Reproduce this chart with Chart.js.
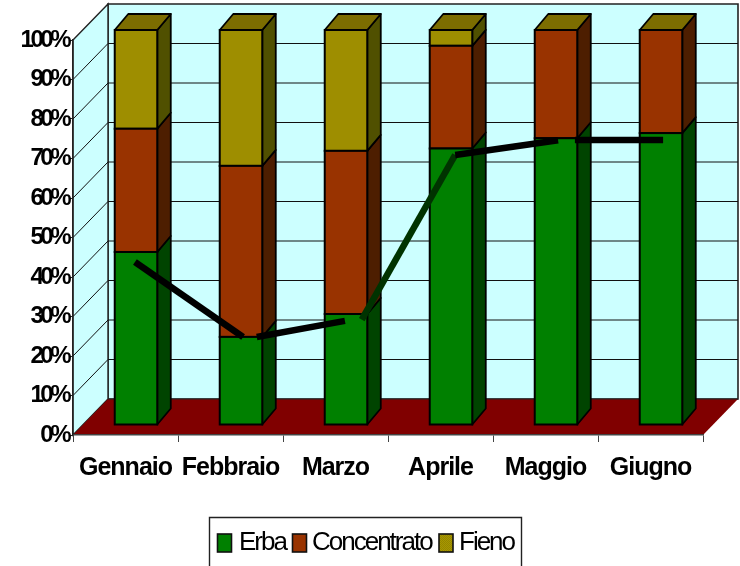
<!DOCTYPE html>
<html lang="it">
<head>
<meta charset="utf-8">
<title>Razione mensile</title>
<script src="https://cdn.jsdelivr.net/npm/chart.js@4"></script>
<style>
  html, body { margin: 0; padding: 0; background: #fff; }
  #wrap { width: 740px; height: 566px; position: relative; }
</style>
</head>
<body>
<div id="wrap"><canvas id="chart" width="740" height="566"></canvas></div>
<script>
// Categories and stacked shares (percent)
const months = ['Gennaio', 'Febbraio', 'Marzo', 'Aprile', 'Maggio', 'Giugno'];
const erba = [43.8, 22.3, 28.1, 70.0, 72.6, 73.9];
const concentrato = [31.2, 43.3, 41.3, 26.0, 27.4, 26.1];
const fieno = [25.0, 34.4, 30.6, 4.0, 0, 0];
const yTicks = [0, 10, 20, 30, 40, 50, 60, 70, 80, 90, 100];

// Trend line pieces, in month-index units; null breaks the line
const trendX = [0.09, 1.12, 1.18, 1.25, 2.09, 2.17, 2.25, 3.14, 4.12, 4.2, 4.28, 5.12];
const trendY = [43.8, 24.8, null, 24.8, 28.9, null, 29.2, 70.9, 74.6, null, 74.7, 74.7];
const darkSegmentStart = 6;

// Oblique projection of the 3D box
const WALL_DX = 35, WALL_DY = -36;      // front plane to back wall
const BAR_DX = 10.5, BAR_DY = -10;      // front plane to bar front faces
const BAR_DEPTH_X = 13.5, BAR_DEPTH_Y = -16;

// Two-tone fill that gives the hay series its woven look
function weave(a, b) {
  const c = document.createElement('canvas');
  c.width = c.height = 2;
  const g = c.getContext('2d');
  g.fillStyle = a; g.fillRect(0, 0, 2, 2);
  g.fillStyle = b; g.fillRect(0, 0, 1, 1); g.fillRect(1, 1, 1, 1);
  return g.createPattern(c, 'repeat');
}
const hayFront = weave('#A89800', '#948500');
const hayTop = weave('#847400', '#746600');

const sideColors = ['#004400', '#4D1E00', '#505000'];

function poly(ctx, pts, fill, stroke, lw) {
  ctx.beginPath();
  pts.forEach((p, i) => i ? ctx.lineTo(p[0], p[1]) : ctx.moveTo(p[0], p[1]));
  ctx.closePath();
  if (fill) { ctx.fillStyle = fill; ctx.fill(); }
  if (stroke) { ctx.strokeStyle = stroke; ctx.lineWidth = lw; ctx.stroke(); }
}

const box3d = {
  id: 'box3d',
  // Walls, floor and wall grid behind everything else
  beforeDraw(chart) {
    const { ctx, chartArea: a, scales: { y } } = chart;
    const bx = a.left + WALL_DX, tr = a.right + WALL_DX;
    const fy0 = y.getPixelForValue(0), fy100 = y.getPixelForValue(100);
    ctx.save();
    ctx.letterSpacing = '0px';
    poly(ctx, [[bx, fy100 + WALL_DY], [tr, fy100 + WALL_DY], [tr, fy0 + WALL_DY], [bx, fy0 + WALL_DY]], '#CCFFFF', '#222', 1.6);
    poly(ctx, [[a.left, fy100], [bx, fy100 + WALL_DY], [bx, fy0 + WALL_DY], [a.left, fy0]], '#CCFFFF', '#222', 1.4);
    ctx.strokeStyle = '#111';
    ctx.lineWidth = 1;
    yTicks.slice(1, -1).forEach(v => {
      const p = y.getPixelForValue(v);
      ctx.beginPath();
      ctx.moveTo(a.left, p);
      ctx.lineTo(bx, p + WALL_DY);
      ctx.lineTo(tr, p + WALL_DY);
      ctx.stroke();
    });
    poly(ctx, [[a.left, fy0], [bx, fy0 + WALL_DY], [tr, fy0 + WALL_DY], [a.right, fy0]], '#800000');
    ctx.beginPath();
    ctx.moveTo(bx, fy0 + WALL_DY);
    ctx.lineTo(tr, fy0 + WALL_DY);
    ctx.strokeStyle = '#222';
    ctx.lineWidth = 1;
    ctx.stroke();
    ctx.restore();
  },
  // Side and top faces of each stacked column, taken from the bar elements
  beforeDatasetsDraw(chart) {
    const { ctx } = chart;
    ctx.save();
    ctx.translate(BAR_DX, BAR_DY);
    ctx.lineJoin = 'round';
    [0, 1, 2].forEach(ds => {
      chart.getDatasetMeta(ds).data.forEach(bar => {
        const right = bar.x + bar.width / 2;
        const top = bar.y, base = bar.base;
        if (Math.abs(base - top) < 0.01) return;
        poly(ctx, [[right, top], [right + BAR_DEPTH_X, top + BAR_DEPTH_Y],
                   [right + BAR_DEPTH_X, base + BAR_DEPTH_Y], [right, base]],
             sideColors[ds], '#000', 1.8);
      });
    });
    const topMeta = chart.getDatasetMeta(2);
    topMeta.data.forEach(bar => {
      const left = bar.x - bar.width / 2, right = bar.x + bar.width / 2;
      poly(ctx, [[left, bar.y], [left + BAR_DEPTH_X, bar.y + BAR_DEPTH_Y],
                 [right + BAR_DEPTH_X, bar.y + BAR_DEPTH_Y], [right, bar.y]],
           hayTop, '#000', 1.8);
    });
    ctx.restore();
  },
  // Front faces sit a little behind the front plane
  beforeDatasetDraw(chart, args) {
    if (args.index < 3) {
      chart.ctx.save();
      chart.ctx.translate(BAR_DX, BAR_DY);
    }
  },
  // Outline each front face centred on its edge, then undo the offset
  afterDatasetDraw(chart, args) {
    if (args.index >= 3) return;
    const { ctx } = chart;
    ctx.strokeStyle = '#000';
    ctx.lineWidth = 2;
    chart.getDatasetMeta(args.index).data.forEach(bar => {
      const h = bar.base - bar.y;
      if (h < 0.01) return;
      ctx.strokeRect(bar.x - bar.width / 2, bar.y, bar.width, h);
    });
    ctx.restore();
  },
  // Tight tracking on the axis labels
  afterLayout(chart) {
    [['x', '-1px'], ['y', '-3.5px']].forEach(([id, spacing]) => {
      const scale = chart.scales[id];
      if (scale._tracked) return;
      const draw = scale.drawLabels.bind(scale);
      scale.drawLabels = area => {
        chart.ctx.letterSpacing = spacing;
        draw(area);
        chart.ctx.letterSpacing = '0px';
      };
      scale._tracked = true;
    });
  },
  // Framed legend, open at the bottom edge of the page
  afterDraw(chart) {
    const { ctx } = chart;
    ctx.save();
    ctx.strokeStyle = '#222';
    ctx.lineWidth = 1.4;
    ctx.beginPath();
    ctx.moveTo(209.5, 570);
    ctx.lineTo(209.5, 517.5);
    ctx.lineTo(521.5, 517.5);
    ctx.lineTo(521.5, 570);
    ctx.stroke();
    ctx.font = '26px "Liberation Sans", Arial, sans-serif';
    ctx.letterSpacing = '-2px';
    ctx.textBaseline = 'alphabetic';
    const slots = [[217.5, 239], [292.5, 312], [439, 459]];
    slots.forEach(([bx, tx], i) => {
      const ds = chart.data.datasets[i];
      ctx.fillStyle = ds.backgroundColor;
      ctx.fillRect(bx, 534, 14, 18);
      ctx.strokeStyle = '#111';
      ctx.lineWidth = 1.6;
      ctx.strokeRect(bx, 534, 14, 18);
      ctx.fillStyle = '#000';
      ctx.fillText(ds.label, tx, 550);
    });
    ctx.restore();
  }
};

const barStyle = {
  type: 'bar',
  borderWidth: 0,
  barPercentage: 0.405,
  categoryPercentage: 1,
  stack: 'razione',
  order: 1,
  clip: false
};

new Chart(document.getElementById('chart'), {
  data: {
    labels: months,
    datasets: [
      { ...barStyle, label: 'Erba', data: erba, backgroundColor: '#008000' },
      { ...barStyle, label: 'Concentrato', data: concentrato, backgroundColor: '#993300' },
      { ...barStyle, label: 'Fieno', data: fieno, backgroundColor: hayFront },
      {
        type: 'line',
        label: 'Andamento',
        parsing: false,
        data: trendX.map((x, i) => ({ x, y: trendY[i] })),
        stack: 'andamento',
        order: 0,
        clip: false,
        borderColor: '#000',
        borderWidth: 6.5,
        borderCapStyle: 'butt',
        borderJoinStyle: 'miter',
        pointRadius: 0,
        tension: 0,
        spanGaps: false,
        segment: {
          borderColor: c => c.p0DataIndex === darkSegmentStart ? '#003300' : '#000'
        }
      }
    ]
  },
  options: {
    responsive: false,
    animation: false,
    events: [],
    layout: { padding: { top: 40, left: 0, right: 37, bottom: 0 } },
    plugins: { legend: { display: false }, tooltip: { enabled: false }, title: { display: false } },
    scales: {
      x: {
        type: 'category',
        offset: true,
        stacked: true,
        afterFit: s => { s.height = 131; },
        grid: { display: true, offset: true, drawOnChartArea: false, drawTicks: true, tickLength: 7, color: '#444', tickColor: '#444' },
        border: { display: true, color: '#444', width: 1.5 },
        ticks: {
          color: '#000',
          padding: 11,
          maxRotation: 0,
          minRotation: 0,
          autoSkip: false,
          font: { family: '"Liberation Sans", Arial, sans-serif', size: 25, weight: 'bold' }
        }
      },
      y: {
        type: 'linear',
        stacked: true,
        min: 0,
        max: 100,
        afterFit: s => { s.width = 73; },
        afterBuildTicks: s => { s.ticks = yTicks.map(value => ({ value })); },
        grid: { display: true, drawOnChartArea: false, drawTicks: true, tickLength: 3, color: '#222', tickColor: '#222' },
        border: { display: true, color: '#222', width: 1.5 },
        ticks: {
          color: '#000',
          padding: 2,
          autoSkip: false,
          callback: v => v + '%',
          font: { family: '"Liberation Sans", Arial, sans-serif', size: 24, weight: 'bold' }
        }
      }
    }
  },
  plugins: [box3d]
});
</script>
</body>
</html>
